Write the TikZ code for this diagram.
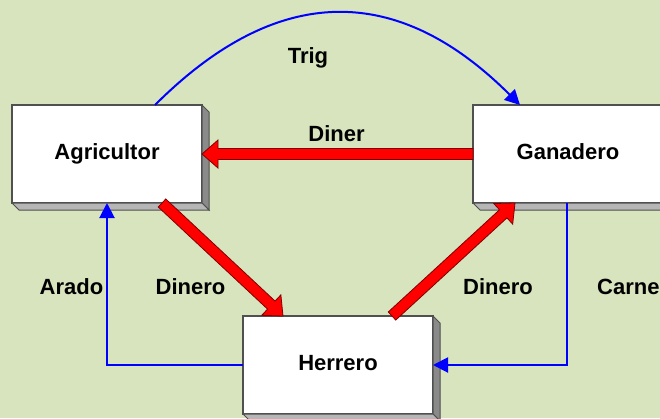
\documentclass[tikz,border=0pt]{standalone}
\usepackage{fontspec}
\setmainfont{Liberation Sans}
\usetikzlibrary{calc,arrows.meta}
\definecolor{bg}{RGB}{215,228,189}
\definecolor{boxline}{RGB}{80,80,80}
\definecolor{sideg}{RGB}{138,138,138}
\definecolor{botg}{RGB}{182,182,182}
\definecolor{darkred}{RGB}{128,0,0}
\tikzset{
  box/.style={draw=boxline, line width=1.2pt, fill=white, minimum width=190pt, minimum height=98pt,
    inner sep=0pt, outer sep=0pt, text height=10pt, text depth=0pt, font=\bfseries\fontsize{22}{26}\selectfont},
  lbl/.style={font=\bfseries\fontsize{22}{26}\selectfont, inner sep=0pt, anchor=base},
  flow/.style={draw=blue, line width=2pt, -{Triangle[length=15pt,width=15pt]}},
  redarr/.style={fill=red, draw=darkred, line width=0.8pt, line join=miter},
  sidef/.style={fill=sideg, draw=boxline, line width=1pt},
  botf/.style={fill=botg, draw=boxline, line width=1pt},
}
\newcommand\bevel[1]{%
  \draw[sidef] (#1.north east) -- ++(7,7) -- ($(#1.south east)+(7,7)$) -- (#1.south east) -- cycle;
  \draw[botf] (#1.south west) -- ++(7,7) -- ($(#1.south east)+(7,7)$) -- (#1.south east) -- cycle;}
\newcommand\redarrow[2]{%
  \coordinate (rah) at ($(#2)!16pt!(#1)$);
  \draw[redarr] ($(#1)!5.5pt!90:(#2)$) -- ($(rah)!5.5pt!90:(#2)$) -- ($(rah)!14pt!90:(#2)$) -- (#2)
    -- ($(rah)!14pt!-90:(#2)$) -- ($(rah)!5.5pt!-90:(#2)$) -- ($(#1)!5.5pt!-90:(#2)$) -- cycle;}
\begin{document}
\begin{tikzpicture}[x=1pt,y=-1pt]
  \useasboundingbox (0,0) rectangle (660,418);
  \fill[bg] (0,0) rectangle (660,418);
  % boxes
  \node[box] (agr) at (107,154) {Agricultor};
  \node[box] (gan) at (568,154) {Ganadero};
  \node[box] (her) at (338,365) {Herrero};
  \bevel{agr}
  \bevel{gan}
  \bevel{her}
  % anchor points
  \coordinate (t1) at ($(agr.north west)+(143,0)$);
  \coordinate (t2) at ($(gan.north west)+(47,0)$);
  \coordinate (r1s) at ($(agr.south west)+(150,0)$);
  \coordinate (r1e) at ($(her.north west)+(40,0)$);
  \coordinate (r2s) at ($(her.north west)+(149,0)$);
  \coordinate (r2e) at ($(gan.south west)+(42,0)$);
  \coordinate (cs) at ($(gan.south west)+(94,0)$);
  % blue flows
  \draw[flow] (t1) .. controls +(123,-123) and +(-122,-122) .. (t2);
  \draw[flow] (her.west) -| (agr.south);
  \draw[flow] (cs) |- (her.east);
  % red flows
  \redarrow{gan.west}{agr.east}
  \redarrow{r1s}{r1e}
  \redarrow{r2s}{r2e}
  % labels
  \node[lbl] (trig) at (308,63) {Trig};
  \node[lbl] (diner) at (336.5,141) {Diner};
  \node[lbl] (arado) at (71.5,294) {Arado};
  \node[lbl] (din1) at (190.5,294) {Dinero};
  \node[lbl] (din2) at (498,294) {Dinero};
  \node[lbl, anchor=base west] (carne) at (597,294) {Carne};
\end{tikzpicture}
\end{document}
